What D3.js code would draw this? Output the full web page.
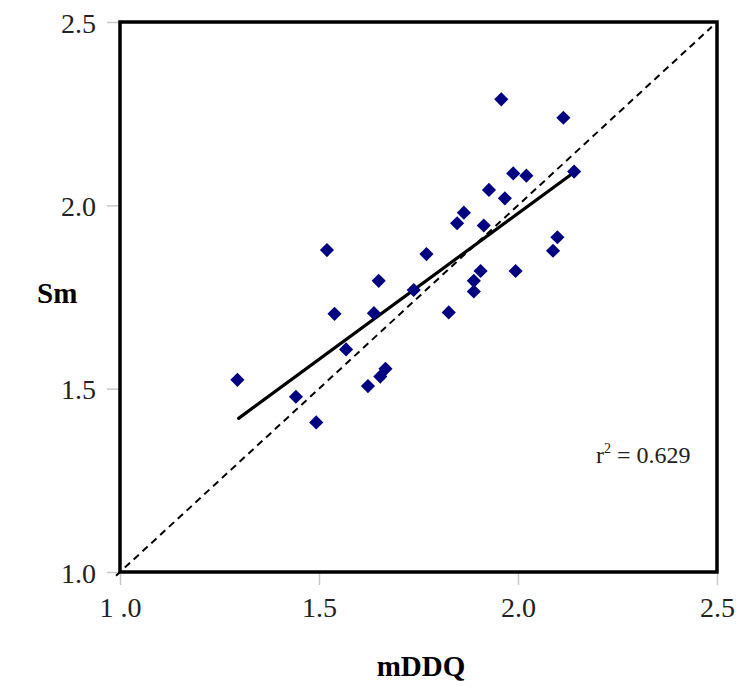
<!DOCTYPE html>
<html>
<head>
<meta charset="utf-8">
<script src="https://cdn.jsdelivr.net/npm/d3@7"></script>
<style>
  body { margin: 0; background: #fff; }
  text { font-family: "Liberation Serif", "Times New Roman", serif; }
</style>
</head>
<body>
<div id="chart"></div>
<script>
// Scatter of Sm against mDDQ, with fitted line and 1:1 line

const mddq = [1.295, 1.442, 1.493, 1.539, 1.638, 1.650, 1.568, 1.623, 1.654, 1.667,
              1.738, 1.826, 1.889, 1.889, 1.906, 1.994, 1.958, 2.114, 2.141, 1.988,
              2.021, 1.927, 1.967, 1.864, 1.847, 1.914, 2.099, 2.088, 1.520, 1.770];
const sm   = [1.524, 1.478, 1.408, 1.704, 1.706, 1.794, 1.607, 1.507, 1.533, 1.554,
              1.769, 1.708, 1.765, 1.794, 1.821, 1.821, 2.289, 2.239, 2.092, 2.087,
              2.081, 2.042, 2.019, 1.980, 1.951, 1.945, 1.913, 1.876, 1.878, 1.867];

// regression line end points and the 1:1 line
const fitLine = [[1.298, 1.419], [2.137, 2.087]];
const identityLine = [[0.99, 0.99], [2.487, 2.487]];

const ticks = [1.0, 1.5, 2.0, 2.5];
const xTickLabels = ["1 .0", "1.5", "2.0", "2.5"];
const yTickLabels = ["1.0", "1.5", "2.0", "2.5"];
const r2Label = "0.629";

const width = 736;
const height = 686;
const margin = { top: 22, right: 19, bottom: 114, left: 120 };

const svg = d3.select("#chart")
    .append("svg")
    .attr("width", width)
    .attr("height", height);

const x = d3.scaleLinear().domain([1.0, 2.5]).range([margin.left, width - margin.right]);
const y = d3.scaleLinear().domain([1.0, 2.5]).range([height - margin.bottom, margin.top]);

// Axes (gray tick marks outside the frame)
const xAxis = svg.append("g")
    .attr("transform", `translate(0,${height - margin.bottom})`)
    .call(d3.axisBottom(x).tickValues(ticks).tickSize(13).tickPadding(12)
        .tickFormat((d, i) => xTickLabels[i]));

const yAxis = svg.append("g")
    .attr("transform", `translate(${margin.left},0)`)
    .call(d3.axisLeft(y).tickValues(ticks).tickSize(13).tickPadding(11)
        .tickFormat((d, i) => yTickLabels[i]));

[xAxis, yAxis].forEach(a => {
    a.select(".domain").remove();
    a.selectAll(".tick line").attr("stroke", "#c8c8c8").attr("stroke-width", 1.5);
    a.selectAll(".tick text")
        .attr("fill", "#222")
        .attr("font-size", null)
        .style("font-size", "28px")
        .style("font-family", "'Liberation Serif', serif");
});
yAxis.selectAll(".tick text").attr("dy", "0.36em");

// Plot frame
svg.append("rect")
    .attr("x", x(1.0))
    .attr("y", y(2.5))
    .attr("width", x(2.5) - x(1.0))
    .attr("height", y(1.0) - y(2.5))
    .attr("fill", "none")
    .attr("stroke", "#000")
    .attr("stroke-width", 3.5);

const line = d3.line().x(d => x(d[0])).y(d => y(d[1]));

// 1:1 dashed line
svg.append("path")
    .attr("d", line(identityLine))
    .attr("fill", "none")
    .attr("stroke", "#000")
    .attr("stroke-width", 2)
    .attr("stroke-dasharray", "7,5");

// fitted line
svg.append("path")
    .attr("d", line(fitLine))
    .attr("fill", "none")
    .attr("stroke", "#000")
    .attr("stroke-width", 3.2)
    .attr("stroke-linecap", "round");

// data points as diamonds
const points = mddq.map((v, i) => ({ x: v, y: sm[i] }));
const diamond = d3.symbol().type(d3.symbolSquare).size(100);

svg.selectAll(".pt")
    .data(points)
    .enter()
    .append("path")
    .attr("class", "pt")
    .attr("d", diamond)
    .attr("transform", d => `translate(${x(d.x)},${y(d.y)}) rotate(45)`)
    .attr("fill", "#000080");

// r squared annotation
const r2 = svg.append("text")
    .attr("x", 596)
    .attr("y", 463)
    .style("font-size", "24px")
    .attr("fill", "#222");
r2.append("tspan").text("r");
r2.append("tspan").text("2").attr("dy", -10).style("font-size", "14px");
r2.append("tspan").text(" = " + r2Label).attr("dy", 10);

// axis titles
svg.append("text")
    .attr("x", 421)
    .attr("y", 676)
    .attr("text-anchor", "middle")
    .style("font-size", "29px")
    .style("font-weight", "bold")
    .text("mDDQ");

svg.append("text")
    .attr("x", 37)
    .attr("y", 303)
    .style("font-size", "29px")
    .style("font-weight", "bold")
    .text("Sm");
</script>
</body>
</html>
